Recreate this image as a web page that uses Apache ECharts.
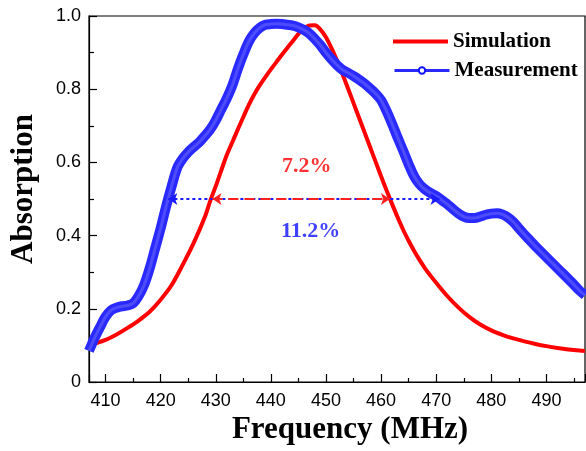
<!DOCTYPE html>
<html>
<head>
<meta charset="utf-8">
<script src="https://cdn.jsdelivr.net/npm/echarts@6/dist/echarts.min.js"></script>
<style>
html,body{margin:0;padding:0;background:#fff;}
#chart{width:586px;height:451px;}
</style>
</head>
<body>
<div id="chart"></div>
<script>
// Simulation (red)
const simFreq = [407,408,410,412,414,416,418,420,422,424,426,428,429,430,431,432,433,434,435,436,437,438,439,440,441,442,443,444,445,446,447,448,449,450,451,452,453,454,455,456,457,458,459,460,461,462,463,464,465,466,467,468,469,470,472,474,476,478,480,482,484,486,488,490,492,494,496,497];
const simAbs = [0.100,0.105,0.115,0.130,0.148,0.168,0.192,0.225,0.265,0.320,0.380,0.450,0.495,0.535,0.578,0.620,0.655,0.690,0.724,0.757,0.786,0.811,0.833,0.854,0.874,0.894,0.913,0.932,0.951,0.966,0.974,0.975,0.963,0.942,0.912,0.878,0.841,0.802,0.762,0.722,0.682,0.642,0.602,0.562,0.523,0.486,0.450,0.416,0.386,0.358,0.333,0.310,0.290,0.271,0.235,0.204,0.178,0.157,0.141,0.129,0.119,0.111,0.104,0.098,0.093,0.089,0.086,0.085];
// Measurement (blue)
const measFreq = [407,408,409,410,411,412,413,414,415,416,417,418,419,420,421,422,423,424,425,426,427,428,429,430,431,432,433,434,435,436,437,438,439,440,441,442,443,444,445,446,447,448,449,450,451,452,453,454,455,456,457,458,459,460,461,462,463,464,465,466,467,468,469,470,471,472,473,474,475,476,477,478,479,480,481,482,483,484,485,486,487,488,489,490,491,492,493,494,495,496,497];
const measAbs = [0.085,0.120,0.150,0.178,0.196,0.203,0.207,0.209,0.215,0.235,0.265,0.310,0.365,0.420,0.480,0.535,0.585,0.610,0.628,0.642,0.655,0.672,0.690,0.715,0.745,0.775,0.810,0.855,0.895,0.930,0.953,0.968,0.976,0.978,0.979,0.978,0.976,0.974,0.969,0.962,0.952,0.937,0.920,0.900,0.882,0.866,0.853,0.845,0.836,0.826,0.815,0.802,0.788,0.770,0.740,0.705,0.668,0.632,0.595,0.562,0.540,0.526,0.516,0.508,0.497,0.486,0.473,0.461,0.452,0.448,0.448,0.452,0.457,0.460,0.461,0.458,0.450,0.437,0.420,0.403,0.387,0.371,0.356,0.341,0.326,0.311,0.296,0.281,0.266,0.250,0.237];
// Bandwidth annotations
const halfLevel = 0.5;
const simBand = [429.4, 461.6];
const measBand = [421.4, 470.6];
const simLabel = '7.2%';
const measLabel = '11.2%';
const simLabelPos = [446.5, 0.590];
const measLabelPos = [447.2, 0.413];

const serif = "'Liberation Serif', 'Times New Roman', serif";
const sans = "'Liberation Sans', Arial, sans-serif";

const simData = simFreq.map((f, i) => [f, simAbs[i]]);
const measData = measFreq.map((f, i) => [f, measAbs[i]]);

const chart = echarts.init(document.getElementById('chart'), null, {renderer: 'canvas'});
chart.setOption({
  animation: false,
  backgroundColor: '#fff',
  grid: {left: 88, right: 1, top: 16, bottom: 69, show: true, borderColor: '#000', borderWidth: 1.2, containLabel: false},
  legend: [
    {data: ['Simulation'], left: 388, top: 26, orient: 'vertical', icon: 'rect', itemWidth: 55, itemHeight: 4, itemGap: 5,
     textStyle: {fontFamily: serif, fontWeight: 'bold', fontSize: 21, color: '#000'}},
    {data: ['Measurement'], left: 388, top: 55, orient: 'vertical', itemWidth: 55, itemHeight: 8, itemGap: 5,
     lineStyle: {width: 3}, textStyle: {fontFamily: serif, fontWeight: 'bold', fontSize: 21, color: '#000'}}
  ],
  xAxis: {
    type: 'value', min: 407, max: 497, splitNumber: 9,
    name: 'Frequency (MHz)', nameLocation: 'middle', nameGap: 31,
    nameTextStyle: {fontFamily: serif, fontWeight: 'bold', fontSize: 31, color: '#000', padding: [0,0,0,26]},
    axisLine: {onZero: false, lineStyle: {color: '#000', width: 1.2}},
    axisTick: {inside: true, length: 8, lineStyle: {color: '#000', width: 1.2}},
    minorTick: {show: true, splitNumber: 2, length: 4, lineStyle: {color: '#000', width: 1.2}},
    axisLabel: {showMinLabel: false, showMaxLabel: false, margin: 10, fontFamily: sans, fontSize: 18, color: '#000'},
    splitLine: {show: false}
  },
  yAxis: {
    type: 'value', min: 0, max: 1, interval: 0.2,
    name: 'Absorption', nameLocation: 'middle', nameGap: 50, nameRotate: 90,
    nameTextStyle: {fontFamily: serif, fontWeight: 'bold', fontSize: 31, color: '#000', padding: [0,0,0,20]},
    axisLine: {show: true, lineStyle: {color: '#000', width: 1.2}},
    axisTick: {inside: true, length: 8, lineStyle: {color: '#000', width: 1.2}},
    minorTick: {show: true, splitNumber: 2, length: 5, lineStyle: {color: '#000', width: 1.2}},
    axisLabel: {margin: 8, fontFamily: sans, fontSize: 18, color: '#000',
      formatter: v => v === 0 ? '0' : v.toFixed(1)},
    splitLine: {show: false}
  },
  series: [
    {
      name: 'Simulation', type: 'line', data: simData, smooth: 0.3, symbol: 'none',
      color: '#ff0000', lineStyle: {color: '#ff0000', width: 4}, z: 2,
      markLine: {
        silent: true, z: 6, symbol: ['arrow', 'arrow'], symbolSize: [9, 9],
        label: {show: false},
        lineStyle: {color: '#ff2020', width: 2, type: [10, 6]},
        data: [[{coord: [simBand[0], halfLevel]}, {coord: [simBand[1], halfLevel]}]]
      }
    },
    {
      name: 'Measurement', type: 'line', data: measData, smooth: 0.3, symbol: 'emptyCircle', showSymbol: false,
      color: '#1010ff', lineStyle: {color: '#2a2aff', width: 10}, z: 3,
      markLine: {
        silent: true, z: 5, symbol: ['arrow', 'arrow'], symbolSize: [9, 9],
        label: {show: false},
        lineStyle: {color: '#1a1aff', width: 2, type: [3, 3]},
        data: [[{coord: [measBand[0], halfLevel]}, {coord: [measBand[1], halfLevel]}]]
      }
    },
    {
      name: 'MeasInner', type: 'line', data: measData, smooth: 0.3, symbol: 'none',
      lineStyle: {color: '#7070ff', width: 3, opacity: 0.5}, z: 4, silent: true
    },
    {
      type: 'scatter', symbolSize: 0, silent: true, z: 7,
      data: [
        {value: simLabelPos, label: {show: true, formatter: simLabel, position: 'inside', fontFamily: serif, fontWeight: 'bold', fontSize: 22, color: '#ff0000'}},
        {value: measLabelPos, label: {show: true, formatter: measLabel, position: 'inside', fontFamily: serif, fontWeight: 'bold', fontSize: 22, color: '#1010ff'}}
      ]
    }
  ]
});
</script>
</body>
</html>
